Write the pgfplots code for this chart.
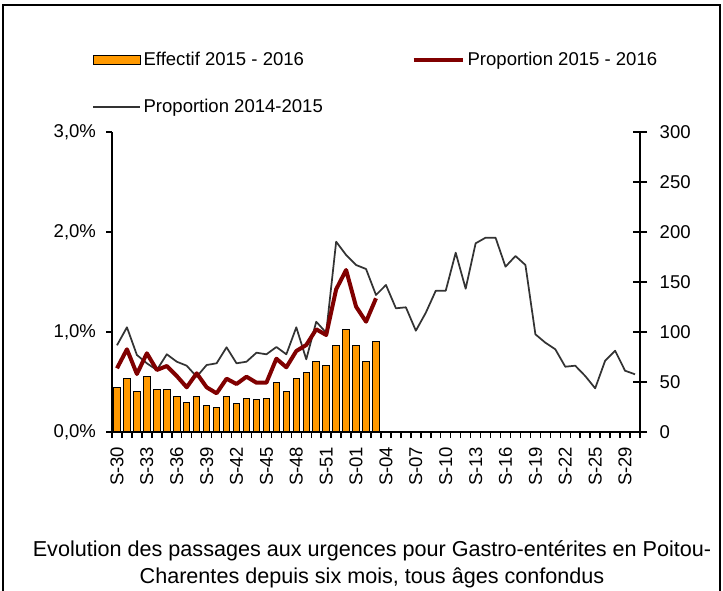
\documentclass[border=0pt]{standalone}
\usepackage{fontspec}
\setmainfont{Liberation Sans}
\usepackage{pgfplots}
\usepackage{pgfplotstable}
\pgfplotsset{compat=1.18}
\definecolor{barorange}{RGB}{255,153,0}
\definecolor{darkred}{RGB}{128,0,0}
\definecolor{linegray}{RGB}{51,51,51}

% season 2015-2016: count (right axis) and proportion in % (left axis)
\pgfplotstableread{
i n p
0 45 0.637
1 54 0.827
2 41 0.580
3 56 0.787
4 43 0.620
5 43 0.660
6 36 0.560
7 30 0.447
8 36 0.587
9 27 0.447
10 25 0.387
11 36 0.533
12 29 0.480
13 34 0.553
14 33 0.493
15 34 0.493
16 50 0.733
17 41 0.647
18 54 0.810
19 60 0.870
20 71 1.027
21 67 0.970
22 87 1.427
23 103 1.620
24 87 1.253
25 71 1.103
26 91 1.337
}\cur

% season 2014-2015: proportion in %
\pgfplotstableread{
i p
0 0.867
1 1.047
2 0.770
3 0.687
4 0.620
5 0.777
6 0.703
7 0.663
8 0.553
9 0.670
10 0.687
11 0.847
12 0.687
13 0.703
14 0.793
15 0.777
16 0.850
17 0.777
18 1.047
19 0.727
20 1.103
21 0.993
22 1.903
23 1.770
24 1.670
25 1.630
26 1.370
27 1.470
28 1.237
29 1.247
30 1.013
31 1.193
32 1.413
33 1.413
34 1.793
35 1.433
36 1.887
37 1.943
38 1.943
39 1.653
40 1.760
41 1.670
42 0.977
43 0.893
44 0.827
45 0.653
46 0.663
47 0.560
48 0.437
49 0.713
50 0.813
51 0.613
52 0.577
}\prev

\newcommand{\tickfont}{\fontsize{13.9}{16}\selectfont}

\begin{document}
\begin{tikzpicture}
\path[use as bounding box] (0,0) rectangle (542.25pt,-443.25pt);
\draw[line width=1.5pt] (2.25pt,-443.25pt) -- (2.25pt,-3.75pt) -- (540pt,-3.75pt) -- (540pt,-443.25pt);

% right axis: counts as bars
\begin{axis}[
  at={(84pt,-324pt)}, anchor=south west,
  scale only axis, width=396pt, height=225pt,
  xmin=-0.5, xmax=52.5, ymin=0, ymax=300,
  axis x line=none, axis y line*=right,
  axis line style={line width=1.1pt},
  ytick={0,50,...,300},
  yticklabels={0,50,100,150,200,250,300},
  tick align=center, major tick length=10.5pt,
  tick style={black, line width=1.1pt},
  yticklabel style={font=\tickfont, xshift=6pt},
]
\addplot[ybar, bar width=4.9pt, fill=barorange, draw=black, line width=0.75pt]
  table[x=i, y=n] {\cur};
\end{axis}

% left axis: proportions
\begin{axis}[
  at={(84pt,-324pt)}, anchor=south west,
  scale only axis, width=396pt, height=225pt,
  xmin=-0.5, xmax=52.5, ymin=0, ymax=3,
  axis x line*=bottom, axis y line*=left,
  axis line style={line width=1.1pt},
  tick style={black, line width=1.1pt},
  tick align=outside,
  major tick length=4.5pt,
  minor tick length=4.5pt,
  ytick={0,1,2,3},
  yticklabels={{0,0\%},{1,0\%},{2,0\%},{3,0\%}},
  xtick={0,3,...,51},
  xticklabels={S-30,S-33,S-36,S-39,S-42,S-45,S-48,S-51,S-01,S-04,S-07,S-10,S-13,S-16,S-19,S-22,S-25,S-29},
  major x tick style={draw=none},
  minor xtick={-0.5,0.5,...,52.5},
  xticklabel style={font=\tickfont, rotate=90, anchor=east, xshift=-3pt},
  yticklabel style={font=\tickfont, xshift=-4pt},
  legend columns=2,
  legend cell align=left,
  legend style={at={(-0.038,1.275)}, anchor=north west, draw=none, fill=none,
    inner sep=0pt, column sep=0pt, row sep=19.5pt,
    font=\fontsize{13.9}{16}\selectfont},
]
\addplot[linegray, line width=1.3pt, line join=round, forget plot] table[x=i, y=p] {\prev};
\addplot[darkred, line width=3pt, line join=round, forget plot] table[x=i, y=p] {\cur};

\addlegendimage{legend image code/.code={
  \draw[fill=barorange, draw=black, line width=0.75pt] (0pt,-3.2pt) rectangle (35.25pt,3.2pt);}}
\addlegendentry{\makebox[199pt][l]{Effectif 2015 - 2016}}
\addlegendimage{legend image code/.code={
  \draw[darkred, line width=3pt] (0pt,0pt) -- (37pt,0pt);}}
\addlegendentry{Proportion 2015 - 2016}
\addlegendimage{legend image code/.code={
  \draw[linegray, line width=1.3pt] (0pt,0pt) -- (35.25pt,0pt);}}
\addlegendentry{Proportion 2014-2015}
\end{axis}

\node[align=center, font=\fontsize{16.2}{20.25}\selectfont] at (279pt,-423pt)
  {Evolution des passages aux urgences pour Gastro-entérites en Poitou-\\Charentes depuis six mois, tous âges confondus};
\end{tikzpicture}
\end{document}
